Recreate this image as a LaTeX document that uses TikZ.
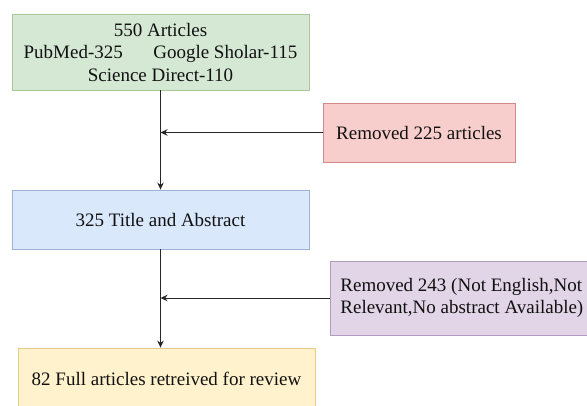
\documentclass[tikz,border=0pt]{standalone}
\usepackage{fontspec}
\setmainfont{Liberation Serif}
\usetikzlibrary{arrows.meta}
\definecolor{gfill}{HTML}{D5E8D4}\definecolor{gdraw}{HTML}{A8C79A}
\definecolor{rfill}{HTML}{F8CECC}\definecolor{rdraw}{HTML}{D08A88}
\definecolor{bfill}{HTML}{DAE8FC}\definecolor{bdraw}{HTML}{9DB4D8}
\definecolor{pfill}{HTML}{E1D5E7}\definecolor{pdraw}{HTML}{B29CC0}
\definecolor{yfill}{HTML}{FFF2CC}\definecolor{ydraw}{HTML}{E2CC88}
\definecolor{txt}{HTML}{111111}
\tikzset{
  box/.style={rectangle, draw, line width=0.8pt, inner sep=0pt, align=center, text=txt,
    font=\fontsize{19}{22.5}\selectfont},
  conn/.style={draw=black!85, line width=1pt, -{Stealth[length=7pt,width=6.5pt]}}
}
\begin{document}
\begin{tikzpicture}[x=1pt,y=-1pt]
\useasboundingbox (0,0) rectangle (587,405);
\clip (0,0) rectangle (587,405);
\node[box, fill=gfill, draw=gdraw, minimum width=297pt, minimum height=76pt] (src) at (160.5,52)
  {550 Articles\\PubMed-325\hspace{1.6em}Google Sholar-115\\Science Direct-110};
\node[box, fill=rfill, draw=rdraw, minimum width=192pt, minimum height=59pt] (rem1) at (419,132.5)
  {Removed 225 articles};
\node[box, fill=bfill, draw=bdraw, minimum width=297pt, minimum height=59pt] (ta) at (160.5,219.5)
  {325 Title and Abstract};
\node[box, fill=pfill, draw=pdraw, minimum height=74pt, anchor=west, inner xsep=10pt, align=left] (rem2) at (330,298)
  {Removed 243 (Not English,Not\\Relevant,No abstract Available)};
\node[box, fill=yfill, draw=ydraw, minimum width=297pt, minimum height=62pt] (full) at (166.5,379)
  {82 Full articles retreived for review};
\draw[conn] (src.south) -- (ta.north);
\draw[conn] (ta.south) -- (ta.south |- full.north);
\draw[conn] (rem1.west) -- (rem1.west -| src.south);
\draw[conn] (rem2.west) -- (rem2.west -| src.south);
\end{tikzpicture}
\end{document}
